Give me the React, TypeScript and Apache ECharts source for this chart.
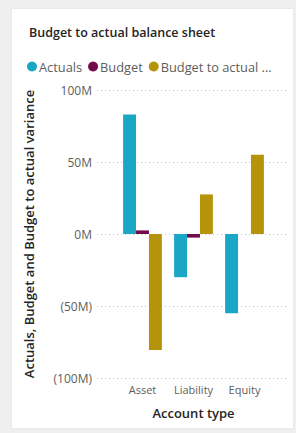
import React, { useEffect, useRef } from "react";
import * as echarts from "echarts";

const categories = ["Asset", "Liability", "Equity"];
const actuals = [83, -30, -55];
const budget = [2.5, -2.5, 0];
const variance = [-80.5, 27.5, 55];
const seriesNames = ["Actuals", "Budget", "Budget to actual variance"];
const yTicks = [-100, -50, 0, 50, 100];

const FONT = "'Segoe UI', 'Open Sans', 'Noto Sans', sans-serif";

export default function App() {
  const ref = useRef<HTMLDivElement>(null);
  useEffect(() => {
    if (!ref.current) return;
    const chart = echarts.init(ref.current, null, { renderer: "svg" });
    const fmt = (v: number) => (v < 0 ? `(${-v}M)` : `${v}M`);
    chart.setOption({
      animation: false,
      textStyle: { fontFamily: FONT },
      title: {
        text: "Budget to actual balance sheet",
        left: 24,
        top: 21,
        textStyle: { fontSize: 12.5, fontWeight: 600, color: "#252423", fontFamily: FONT },
      },
      legend: {
        left: 22,
        top: 55,
        icon: "circle",
        itemWidth: 10,
        itemHeight: 10,
        itemGap: 6,
        data: seriesNames,
        formatter: (n: string) => (n.length > 16 ? n.slice(0, 16) + " ..." : n),
        textStyle: { fontSize: 12.8, color: "#605e5c", padding: [0, 0, 0, -3], fontFamily: FONT },
      },
      grid: [
        { left: 97, right: 8, top: 90, bottom: 55 },
        { left: 117, right: 26, top: 90, bottom: 55 },
      ],
      xAxis: [
        { type: "category", gridIndex: 0, data: categories, show: false },
        {
          type: "category",
          gridIndex: 1,
          data: categories,
          axisLine: { show: false },
          axisTick: { show: false },
          axisLabel: { color: "#605e5c", fontSize: 11, margin: 6, interval: 0, fontFamily: FONT },
          name: "Account type",
          nameLocation: "middle",
          nameGap: 28,
          nameTextStyle: { fontSize: 13, fontWeight: 600, color: "#252423", fontFamily: FONT },
        },
      ],
      yAxis: [
        {
          type: "value",
          gridIndex: 0,
          min: yTicks[0],
          max: yTicks[yTicks.length - 1],
          interval: 50,
          axisLabel: { formatter: fmt, color: "#605e5c", fontSize: 12, margin: 5, fontFamily: FONT },
          axisLine: { show: false },
          axisTick: { show: false },
          splitLine: { lineStyle: { type: [1, 3], color: "#c8c6c4", width: 1 } },
          name: "Actuals, Budget and Budget to actual variance",
          nameLocation: "middle",
          nameRotate: 90,
          nameGap: 62,
          nameTextStyle: { fontSize: 13, fontWeight: 600, color: "#252423", fontFamily: FONT },
        },
        {
          type: "value",
          gridIndex: 1,
          min: yTicks[0],
          max: yTicks[yTicks.length - 1],
          interval: 50,
          show: false,
          splitLine: { show: false },
        },
      ],
      series: [
        { name: seriesNames[0], type: "bar", xAxisIndex: 1, yAxisIndex: 1, data: actuals, itemStyle: { color: "#1AA6C5" }, barGap: "0%", barCategoryGap: "24%" },
        { name: seriesNames[1], type: "bar", xAxisIndex: 1, yAxisIndex: 1, data: budget, itemStyle: { color: "#740A4A" }, barGap: "0%", barCategoryGap: "24%" },
        { name: seriesNames[2], type: "bar", xAxisIndex: 1, yAxisIndex: 1, data: variance, itemStyle: { color: "#B5930B" }, barGap: "0%", barCategoryGap: "24%" },
      ],
    });
    return () => chart.dispose();
  }, []);
  return (
    <div style={{ position: "fixed", left: 0, top: 0, width: 296, height: 433, background: "#efefef" }}>
      <div
        style={{
          position: "absolute",
          left: 12,
          top: 9,
          width: 281,
          height: 419,
          background: "#ffffff",
          boxShadow: "0 0 2px rgba(0,0,0,0.08)",
        }}
      />
      <div ref={ref} style={{ position: "absolute", left: 0, top: 0, width: 296, height: 433 }} />
    </div>
  );
}
